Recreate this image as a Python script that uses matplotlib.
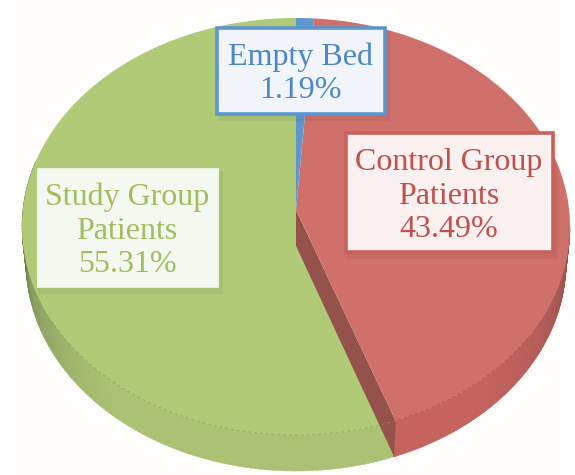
import numpy as np
import matplotlib
matplotlib.use("Agg")
import matplotlib.pyplot as plt
from matplotlib.patches import Polygon, Rectangle

categories = ["Empty Bed", "Control Group\nPatients", "Study Group\nPatients"]
values = [1.19, 43.49, 55.31]
top_colors = ["#5f97cd", "#d0706b", "#b0ca77"]
text_colors = ["#4f86c6", "#c0504d", "#9fbe5f"]
edge_colors = ["#5b96cf", "#c8615c", "#f5f8f0"]
face_colors = ["#f1f4f9", "#f9f0ef", "#f5f8f0"]
boxes = [(217, 28, 168, 86), (346, 133, 207, 119), (37, 168, 181, 119)]
label_xy = [(300, 74), (449, 196), (127, 231)]

W, H = 575, 475
fig = plt.figure(figsize=(W / 100, H / 100), dpi=100)
ax = fig.add_axes([0, 0, 1, 1])
ax.set_xlim(0, W)
ax.set_ylim(H, 0)
ax.axis("off")
ax.add_patch(Rectangle((10, 0), 560, 475, fc="#fffefc", ec="none", zorder=0))

cx, cy, rx, rx_low, ry, depth = 296, 226.5, 274, 270, 208.5, 36
apex_y = 210

edges = np.concatenate([[0], np.cumsum(values)]) / np.sum(values) * 2 * np.pi
edges = edges - 0.116 * np.sin(edges)  # slight perspective warp of the slice angles


def arc(a0, a1, off=0.0, n=160):
    t = np.linspace(a0, a1, n)
    r = rx_low if off else rx
    return np.column_stack([cx + r * np.sin(t), cy + off - ry * np.cos(t)])


def mix(c0, c1, f):
    a, b = np.array(matplotlib.colors.to_rgb(c0)), np.array(matplotlib.colors.to_rgb(c1))
    return tuple(a + (b - a) * f)


def wall(a0, a1, dark, light, z):
    # outer rim, shaded by how far the facet turns away from the viewer
    t = np.linspace(a0, a1, 140)
    for s, e in zip(t[:-1], t[1:]):
        m = (s + e) / 2
        f = np.clip(-np.cos(m) * 1.35, 0, 1) ** 0.7
        pts = np.vstack([arc(s, e + 0.004, 0, 3), arc(e + 0.004, s, depth, 3)])
        col = mix(dark, light, f)
        ax.add_patch(Polygon(pts, closed=True, fc=col, ec=col, lw=0.3, zorder=z))


# outer walls: visible lower half only
wall(edges[2], 1.6 * np.pi, "#67784a", "#abc274", 2)
wall(0.5 * np.pi, edges[2], "#8a4a4c", "#c5635f", 2)

# green top
ax.add_patch(Polygon(np.vstack([[[cx, apex_y + depth]], arc(edges[2], edges[3])]),
                     closed=True, fc=top_colors[2], ec="none", zorder=3))

# cut face of the control slice
p = arc(edges[2], edges[2], 0, 1)[0]
q = arc(edges[2], edges[2], depth, 1)[0]
ax.add_patch(Polygon([(cx, apex_y), tuple(p), tuple(q), (cx, apex_y + depth)],
                     closed=True, fc="#95524a", ec="none", zorder=4))

# red and blue tops
ax.add_patch(Polygon(np.vstack([[[cx, apex_y]], arc(edges[1], edges[2])]),
                     closed=True, fc=top_colors[1], ec="none", zorder=5))
ax.add_patch(Polygon(np.vstack([[[cx, apex_y]], arc(edges[0], edges[1], 0, 10)]),
                     closed=True, fc=top_colors[0], ec="none", zorder=5))

# faint dashed rim where the top face meets the wall
rim = arc(edges[2], 1.35 * np.pi)
ax.plot(rim[:, 0], rim[:, 1], ls=(0, (3, 3)), lw=0.7, color="#8a9f55", alpha=0.7, zorder=6)
rim_red = arc(0.68 * np.pi, edges[2])
ax.plot(rim_red[:, 0], rim_red[:, 1], ls=(0, (3, 3)), lw=0.7, color="#a8504c", alpha=0.7, zorder=6)

for cat, val, tc, ec, fc, (bx, by, bw, bh), (x, y) in zip(
        categories, values, text_colors, edge_colors, face_colors, boxes, label_xy):
    ax.add_patch(Rectangle((bx + 1, by + 3), bw + 4, bh + 4, fc="black", ec="none", alpha=0.05, zorder=7))
    ax.add_patch(Rectangle((bx, by), bw, bh, fc=fc, ec=ec, lw=2.6 if ec != fc else 0.5, zorder=8))
    ax.text(x, y, f"{cat}\n{val:.2f}%", ha="center", va="center", fontsize=23, color=tc,
            linespacing=1.2, family="Liberation Serif", zorder=9)

fig.savefig("out.png", dpi=100)
